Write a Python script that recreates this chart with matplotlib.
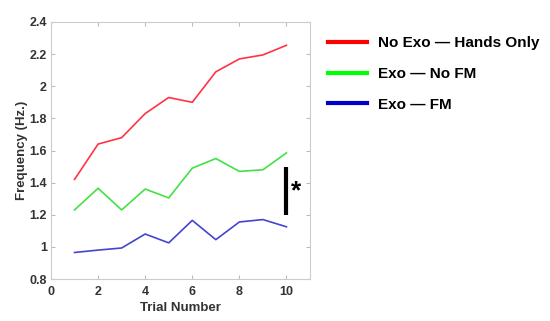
import matplotlib
matplotlib.use("Agg")
import matplotlib.pyplot as plt
from matplotlib.lines import Line2D

plt.rcParams['font.family'] = ['Liberation Sans', 'DejaVu Sans']

trials = [1, 2, 3, 4, 5, 6, 7, 8, 9, 10]
no_exo = [1.42, 1.64, 1.68, 1.83, 1.93, 1.90, 2.09, 2.17, 2.195, 2.255]
exo_no_fm = [1.23, 1.365, 1.23, 1.36, 1.305, 1.49, 1.55, 1.47, 1.48, 1.585]
exo_fm = [0.965, 0.98, 0.993, 1.08, 1.025, 1.165, 1.045, 1.155, 1.17, 1.125]
labels = ["No Exo \u2014 Hands Only", "Exo \u2014 No FM", "Exo \u2014 FM"]
colors = ["#ff3344", "#44e044", "#4444d0"]
legend_colors = ["#ff0000", "#00ff00", "#0000cc"]
xticks = [0, 2, 4, 6, 8, 10]
yticks = [0.8, 1, 1.2, 1.4, 1.6, 1.8, 2, 2.2, 2.4]
ytick_labels = ["0.8", "1", "1.2", "1.4", "1.6", "1.8", "2", "2.2", "2.4"]

fig = plt.figure(figsize=(5.5, 3.21), dpi=100)
ax = fig.add_axes([51/550, 42/321, 259/550, 257/321])

for ys, c in zip([no_exo, exo_no_fm, exo_fm], colors):
    ax.plot(trials, ys, color=c, lw=1.2)

# significance bar
ax.plot([10, 10], [1.2, 1.5], color='black', lw=3, solid_capstyle='butt')
ax.text(10.4, 1.345, "*", fontsize=19, fontweight='bold', ha='center', va='center')

ax.set_xlim(0, 11)
ax.set_ylim(0.8, 2.4)
ax.set_xticks(xticks)
ax.set_yticks(yticks)
ax.set_yticklabels(ytick_labels)
ax.tick_params(direction='in', length=3, color='#bbbbbb', top=True, right=True,
               labelsize=9, pad=3, labelcolor='#333333')
ax.tick_params(axis='x', pad=5)
for lab in ax.get_xticklabels() + ax.get_yticklabels():
    lab.set_fontweight('bold')
for s in ax.spines.values():
    s.set_color('#cccccc')
    s.set_linewidth(0.8)

ax.set_xlabel("Trial Number", fontsize=9.5, fontweight='bold', color='#333333', labelpad=3)
ax.set_ylabel("Frequency (Hz.)", fontsize=9.5, fontweight='bold', color='#333333', labelpad=1)

handles = [Line2D([0], [0], color=c, lw=3) for c in legend_colors]
fig.legend(handles, labels, loc='upper left', bbox_to_anchor=(0.572, 0.93),
           frameon=False, handlelength=2.5, handletextpad=0.75, labelspacing=1.1,
           prop={'family': 'Liberation Sans', 'weight': 'bold', 'size': 11})

fig.savefig("out.png", dpi=100)
